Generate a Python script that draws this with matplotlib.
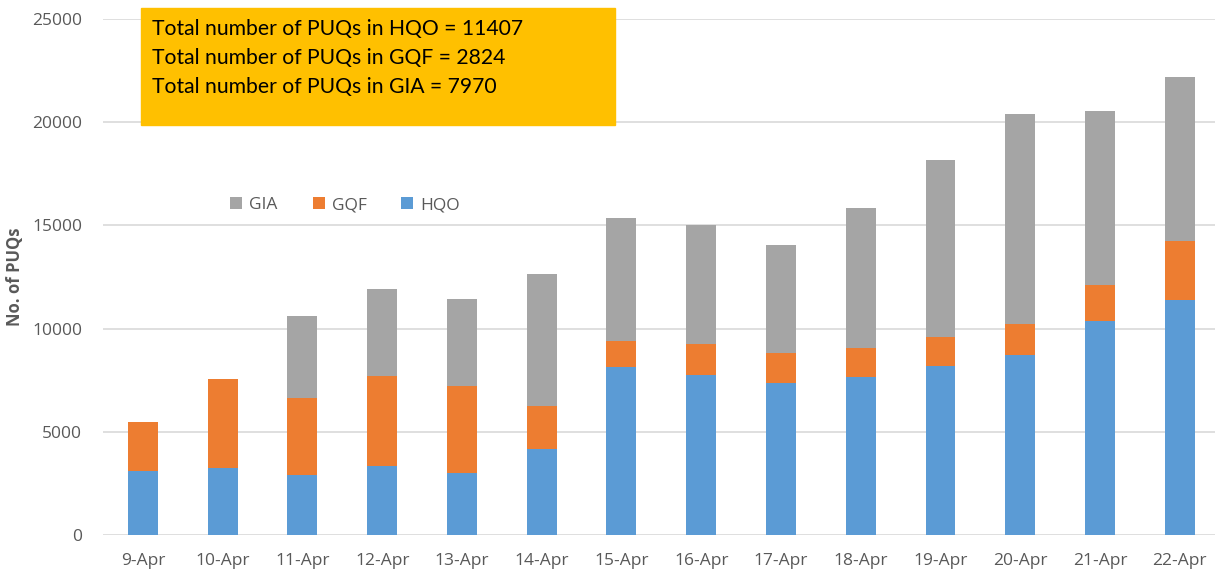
import numpy as np
import matplotlib
matplotlib.use("Agg")
from matplotlib import pyplot as plt

# data
days = ['9-Apr', '10-Apr', '11-Apr', '12-Apr', '13-Apr', '14-Apr', '15-Apr',
        '16-Apr', '17-Apr', '18-Apr', '19-Apr', '20-Apr', '21-Apr', '22-Apr']
hqo = [3100, 3250, 2920, 3340, 3020, 4180, 8120, 7730, 7340, 7670, 8190, 8730, 10350, 11407]
gqf = [2380, 4300, 3710, 4340, 4210, 2060, 1290, 1540, 1490, 1380, 1380, 1490, 1750, 2824]
gia = [0, 0, 3990, 4240, 4200, 6390, 5960, 5770, 5220, 6800, 8580, 10170, 8450, 7970]
totals = ['Total number of PUQs in HQO = 11407',
          'Total number of PUQs in GQF = 2824',
          'Total number of PUQs in GIA = 7970']

plt.rcParams['font.family'] = ['Open Sans', 'DejaVu Sans']
grey = '#595959'

fig = plt.figure(figsize=(12.15, 5.74), dpi=100)
ax = fig.add_axes([0.0848, 0.068, 0.919, 0.899])

x = np.arange(len(days))
w = 0.375
hqo_a = np.array(hqo)
gqf_a = np.array(gqf)
b1 = ax.bar(x, hqo_a, w, color='#5B9BD5', label='HQO', zorder=3)
b2 = ax.bar(x, gqf_a, w, bottom=hqo_a, color='#ED7D31', label='GQF', zorder=3)
b3 = ax.bar(x, gia, w, bottom=hqo_a + gqf_a, color='#A5A5A5', label='GIA', zorder=3)

ax.set_xlim(-0.5, len(days) - 0.5)
ax.set_ylim(0, 25000)
ax.set_yticks(np.arange(0, 25001, 5000))
ax.set_xticks(x)
ax.set_xticklabels(days)
ax.grid(axis='y', color='#D9D9D9', linewidth=1.2, zorder=0)
for s in ax.spines.values():
    s.set_visible(False)
ax.tick_params(length=0, colors=grey, labelsize=12.5)
ax.tick_params(axis='y', pad=15)
ax.tick_params(axis='x', pad=13)
ax.set_ylabel('No. of PUQs', fontsize=12, fontweight='bold', color=grey, labelpad=6)

ax.legend(handles=[b3, b2, b1], loc='upper left', bbox_to_anchor=(0.1, 0.685),
          ncol=3, frameon=False, fontsize=12.5, labelcolor=grey,
          handlelength=0.7, handleheight=0.7, handletextpad=0.4, columnspacing=2.0)

# orange summary box
box = plt.Rectangle((141 / 1215, 1 - 125 / 574), 474 / 1215, 117 / 574,
                    transform=fig.transFigure, color='#FFC000', zorder=5)
fig.patches.append(box)
for i, t in enumerate(totals):
    fig.text(152 / 1215, 1 - (29 + 29 * i) / 574, t, fontsize=15.2, color='black',
             va='center', ha='left', zorder=6, family=['Lato', 'DejaVu Sans'])

fig.savefig('out.png', dpi=100)
